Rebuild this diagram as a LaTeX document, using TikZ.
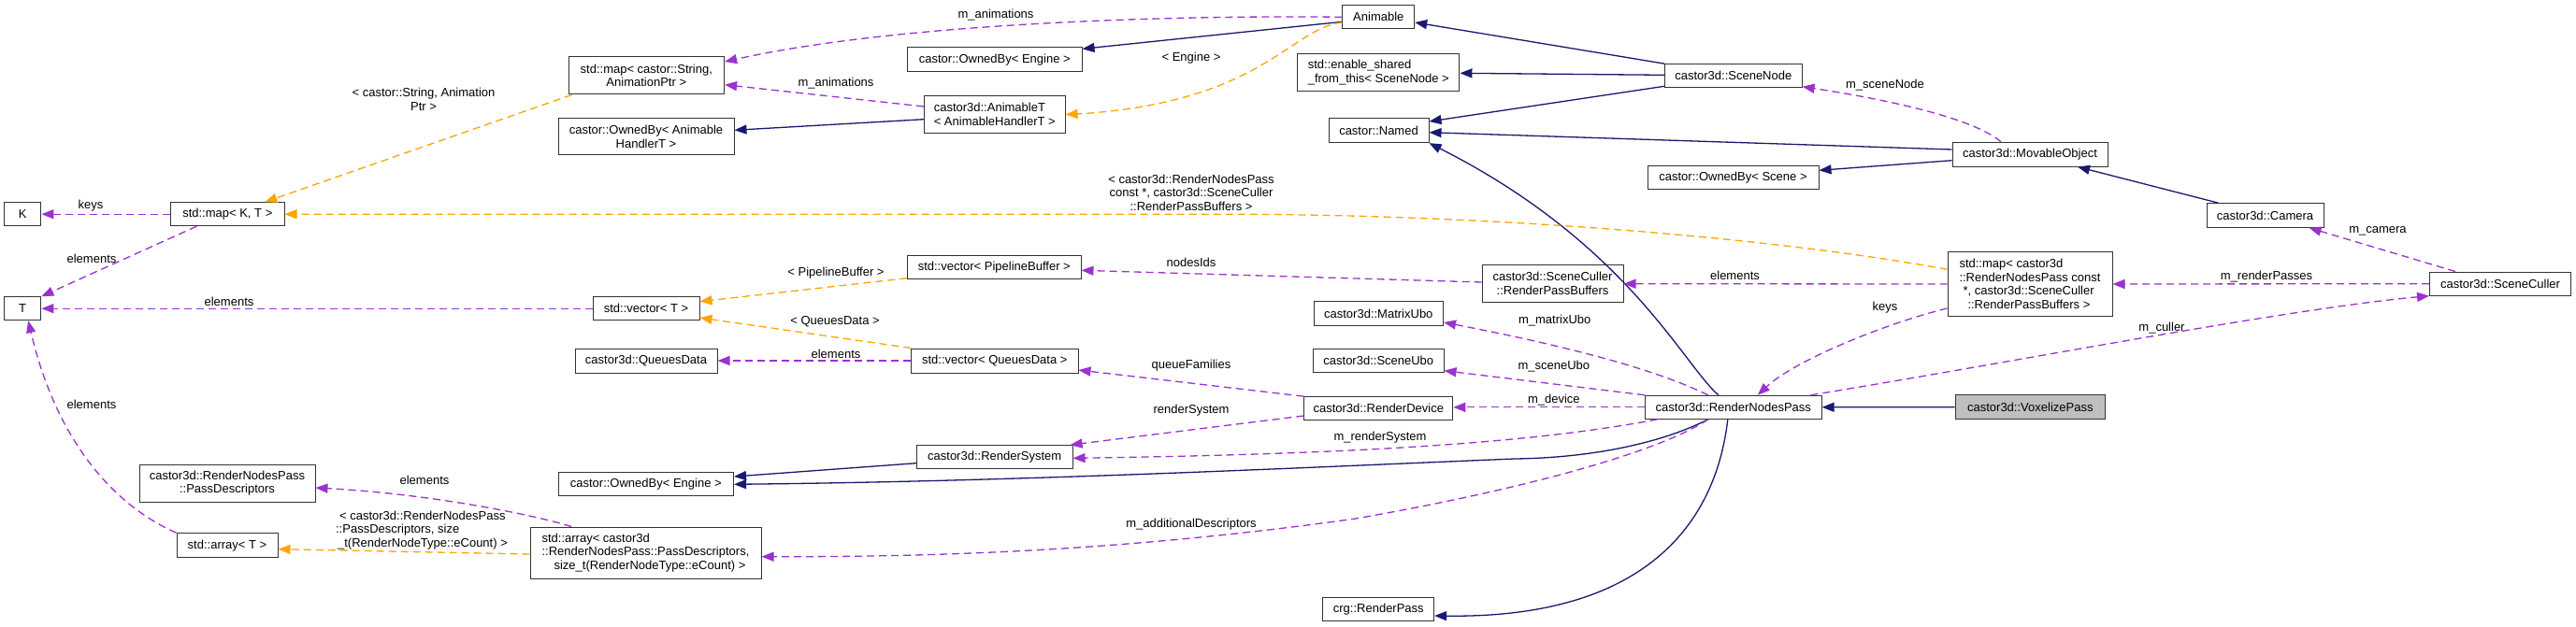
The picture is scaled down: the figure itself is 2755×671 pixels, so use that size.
\documentclass[tikz,border=0pt]{standalone}
\usepackage{fontspec}
\setmainfont{Liberation Sans}
\usetikzlibrary{arrows.meta}
\definecolor{navyc}{RGB}{25,25,112}
\definecolor{purc}{RGB}{154,50,205}
\definecolor{orac}{RGB}{255,165,0}
\definecolor{voxfill}{RGB}{191,191,191}
\tikzset{
  box/.style={draw=black!80, line width=1pt, fill=white, inner sep=0pt, font=\fontsize{13}{14.7}\selectfont, align=center},
  lbl/.style={inner sep=0pt, font=\fontsize{13}{14.7}\selectfont, align=center},
  tipx/.style={-{Triangle[length=13pt,width=10pt]}},
  inh/.style={draw=navyc, line width=1.3pt, tipx},
  use/.style={draw=purc, line width=1.3pt, dash pattern=on 8pt off 5pt, tipx},
  tmpl/.style={draw=orac, line width=1.3pt, dash pattern=on 8pt off 5pt, tipx}
}
\begin{document}
\begin{tikzpicture}[x=1pt,y=-1pt]
\fill[white] (0,0) rectangle (2755,671);
\useasboundingbox (0,0) rectangle (2755,671);

% nodes
\node[box, minimum width=39.3pt, minimum height=25pt] (K) at (24.2,229.2) {K};
\node[box, minimum width=39.3pt, minimum height=25pt] (T) at (24.2,330.2) {T};
\node[box, minimum width=121.4pt, minimum height=25pt] (mapKT) at (243.3,229.2) {std::map< K, T >};
\node[box, minimum width=188pt, minimum height=40pt] (passDesc) at (243,517) {castor3d::RenderNodesPass\\::PassDescriptors};
\node[box, minimum width=108pt, minimum height=26pt] (arrT) at (243,583.7) {std::array< T >};
\node[box, minimum width=166.6pt, minimum height=40pt] (mapStr) at (691.3,81) {std::map< castor::String,\\AnimationPtr >};
\node[box, minimum width=188pt, minimum height=39.3pt] (ownAH) at (691,146.3) {castor::OwnedBy< Animable\\HandlerT >};
\node[box, minimum width=114pt, minimum height=25pt] (vecT) at (691,330.2) {std::vector< T >};
\node[box, minimum width=152pt, minimum height=26pt] (QD) at (691,386) {castor3d::QueuesData};
\node[box, minimum width=187.5pt, minimum height=25.3pt] (ownEng2) at (690.8,518.3) {castor::OwnedBy< Engine >};
\node[box, align=left, minimum width=247pt, minimum height=55pt] (arrC) at (690.5,591.5) {std::array< castor3d\\::RenderNodesPass::PassDescriptors,\\\hspace*{13pt}size\_t(RenderNodeType::eCount) >};
\node[box, minimum width=186.4pt, minimum height=25.7pt] (ownEng1) at (1063.8,63.8) {castor::OwnedBy< Engine >};
\node[box, align=left, minimum width=150.5pt, minimum height=40pt] (animT) at (1063.8,122.7) {castor3d::AnimableT\\< AnimableHandlerT >};
\node[box, minimum width=185.4pt, minimum height=25.3pt] (vecPB) at (1063.3,286.3) {std::vector< PipelineBuffer >};
\node[box, minimum width=178.4pt, minimum height=26pt] (vecQD) at (1063.8,386) {std::vector< QueuesData >};
\node[box, minimum width=166.6pt, minimum height=25.3pt] (rSys) at (1063.7,489.3) {castor3d::RenderSystem};
\node[box, minimum width=76.7pt, minimum height=25.3pt] (Animable) at (1474.3,18.3) {Animable};
\node[box, align=left, minimum width=173.3pt, minimum height=40pt] (enableSh) at (1474.3,77.3) {std::enable\_shared\\\_from\_this< SceneNode >};
\node[box, minimum width=107pt, minimum height=25.7pt] (Named) at (1474.5,139.8) {castor::Named};
\node[box, minimum width=138.5pt, minimum height=25.6pt] (MatrixUbo) at (1474.3,335.5) {castor3d::MatrixUbo};
\node[box, minimum width=139.4pt, minimum height=25.3pt] (SceneUbo) at (1474.3,386.3) {castor3d::SceneUbo};
\node[box, minimum width=159pt, minimum height=25.3pt] (RDev) at (1474.3,437.3) {castor3d::RenderDevice};
\node[box, minimum width=118.7pt, minimum height=25.3pt] (RenderPass) at (1474.3,651.7) {crg::RenderPass};
\node[box, minimum width=151pt, minimum height=40pt] (RPB) at (1660.5,303.7) {castor3d::SceneCuller\\::RenderPassBuffers};
\node[box, minimum width=146.5pt, minimum height=25.3pt] (SceneNode) at (1853.8,81.3) {castor3d::SceneNode};
\node[box, minimum width=183pt, minimum height=25.3pt] (ownScene) at (1853.5,190.3) {castor::OwnedBy< Scene >};
\node[box, minimum width=188.5pt, minimum height=25pt] (RNP) at (1853.8,435.8) {castor3d::RenderNodesPass};
\node[box, minimum width=166pt, minimum height=25.7pt] (MovObj) at (2171,165.2) {castor3d::MovableObject};
\node[box, align=left, minimum width=176pt, minimum height=69.4pt] (mapC) at (2171,304) {std::map< castor3d\\::RenderNodesPass const\\\hspace*{4pt}*, castor3d::SceneCuller\\\hspace*{9pt}::RenderPassBuffers >};
\node[box, fill=voxfill, minimum width=160.6pt, minimum height=26pt] (Voxel) at (2171.3,435.7) {castor3d::VoxelizePass};
\node[box, minimum width=125pt, minimum height=25.6pt] (Camera) at (2422.5,230.5) {castor3d::Camera};
\node[box, minimum width=151pt, minimum height=25.3pt] (SceneCuller) at (2674,303.7) {castor3d::SceneCuller};

% edges
\draw[use] (Animable.west) .. controls (1250,16) and (960,25) .. ([yshift=15pt]mapStr.east);
\draw[inh] ([yshift=-5pt]Animable.west) -- ([yshift=11.5pt]ownEng1.east);
\draw[use] ([yshift=8.7pt]animT.west) -- ([yshift=-9.7pt]mapStr.east);
\draw[inh] ([yshift=-5pt]animT.west) -- ([yshift=7pt]ownAH.east);
\draw[tmpl] ([yshift=-5.7pt]Animable.west) .. controls (1380,30) and (1350,110) .. (animT.east);
\draw[tmpl] ([xshift=4pt]mapStr.south west) -- ([xshift=40pt]mapKT.north);
\draw[use] (mapKT.west) -- (K.east);
\draw[use] ([xshift=-33pt]mapKT.south) -- (T.north east);
\draw[use] (vecT.west) -- (T.east);
\draw[use] (arrT.north west) .. controls (120,540) and (60,470) .. ([xshift=6pt]T.south);
\draw[tmpl] ([yshift=-11.4pt]vecPB.west) -- ([yshift=7.5pt]vecT.east);
\draw[tmpl] (vecQD.north west) -- ([yshift=-9.8pt]vecT.east);
\draw[use] (vecQD.west) -- (QD.east);
\draw[inh] ([yshift=-6.4pt]rSys.west) -- ([yshift=8.3pt]ownEng2.east);
\draw[inh] ([xshift=-27pt]RNP.south) .. controls (1775,475) and (1700,490) .. (1620,491) .. controls (1400,500) and (1100,515) .. (ownEng2.east);
\draw[use] (RDev.north west) -- ([yshift=-10pt]vecQD.east);
\draw[use] ([yshift=-7.7pt]RDev.west) -- ([xshift=-3pt]rSys.north east);
\draw[use] ([xshift=13.5pt]RNP.south west) .. controls (1640,474) and (1450,486) .. ([yshift=-1pt]rSys.east);
\draw[use] (RNP.west) -- (RNP.west -| RDev.east);
\draw[use] (RNP.north west) -- ([yshift=-10.4pt]SceneUbo.east);
\draw[use] ([xshift=-27pt]RNP.north) .. controls (1780,400) and (1700,375) .. ([yshift=-9.5pt]MatrixUbo.east);
\draw[inh] ([xshift=-16pt]RNP.north) .. controls (1800,390) and (1740,260) .. (Named.south east);
\draw[inh] ([xshift=-6pt]RNP.south) .. controls (1835,560) and (1760,662) .. ([yshift=-7.3pt]RenderPass.east);
\draw[use] ([xshift=-27pt]RNP.south) .. controls (1780,480) and (1650,520) .. (1450,555) .. controls (1200,590) and (1000,596) .. ([yshift=-4.2pt]arrC.east);
\draw[use] ([xshift=44.6pt]arrC.north west) .. controls (560,548) and (450,528) .. ([yshift=-5pt]passDesc.east);
\draw[tmpl] ([yshift=-1.5pt]arrC.west) -- ([yshift=-4pt]arrT.east);
\draw[tmpl] ([yshift=15.7pt]mapC.west) .. controls (1900,255) and (1600,229) .. (1300,229.2) -- (mapKT.east);
\draw[use] (mapC.west) -- (RPB.east);
\draw[use] ([yshift=1.7pt]RPB.west) -- ([yshift=-3pt]vecPB.east);
\draw[use] ([yshift=-26pt]mapC.west) .. controls (2020,345) and (1920,385) .. ([xshift=26pt]RNP.north);
\draw[use] ([xshift=-31pt]MovObj.north) .. controls (2115,130) and (2040,110) .. ([yshift=-11.4pt]SceneNode.east);
\draw[inh] ([yshift=5.2pt]MovObj.west) -- ([yshift=-1.9pt]Named.east);
\draw[inh] ([yshift=-6.5pt]MovObj.west) -- ([yshift=8pt]ownScene.east);
\draw[inh] (SceneNode.north west) -- ([yshift=-5.7pt]Animable.east);
\draw[inh] ([yshift=1pt]SceneNode.west) -- ([yshift=-1pt]enableSh.east);
\draw[inh] ([yshift=-11pt]SceneNode.west) -- ([yshift=9.8pt]Named.east);
\draw[inh] ([xshift=13pt]Camera.north west) -- ([xshift=51pt]MovObj.south);
\draw[use] ([xshift=-48pt]SceneCuller.north) -- ([xshift=-16pt]Camera.south east);
\draw[use] (SceneCuller.west) -- (mapC.east);
\draw[use] ([xshift=-12pt]RNP.north east) .. controls (2150,388) and (2450,330) .. ([yshift=-13pt]SceneCuller.west);
\draw[inh] (Voxel.west) -- (RNP.east);

% labels
\node[lbl] (l1) at (1065,15.7) {m\_animations};
\node[lbl] (l2) at (894,88.7) {m\_animations};
\node[lbl] (l3) at (1274,62) {< Engine >};
\node[lbl] (l4) at (453,106.5) {< castor::String, Animation\\Ptr >};
\node[lbl] (l5) at (97,220) {keys};
\node[lbl] (l6) at (98,277) {elements};
\node[lbl] (l7) at (245,323) {elements};
\node[lbl] (l8) at (98,433) {elements};
\node[lbl] (l9) at (1274,206.2) {< castor3d::RenderNodesPass\\const *, castor3d::SceneCuller\\::RenderPassBuffers >};
\node[lbl] (l10) at (894,291.7) {< PipelineBuffer >};
\node[lbl] (l11) at (1274,280.7) {nodesIds};
\node[lbl] (l12) at (893,344.3) {< QueuesData >};
\node[lbl] (l13) at (894,378.7) {elements};
\node[lbl] (l14) at (1274,390.7) {queueFamilies};
\node[lbl] (l15) at (1274,439) {renderSystem};
\node[lbl] (l16) at (1476,468.3) {m\_renderSystem};
\node[lbl] (l17) at (1274,560.7) {m\_additionalDescriptors};
\node[lbl] (l18) at (454,514) {elements};
\node[lbl, align=left] (l19) at (451,567.5) {\hspace*{4pt}< castor3d::RenderNodesPass\\::PassDescriptors, size\\\hspace*{2pt}\_t(RenderNodeType::eCount) >};
\node[lbl] (l20) at (2016,91) {m\_sceneNode};
\node[lbl] (l21) at (1855.5,295.3) {elements};
\node[lbl] (l22) at (2016,329) {keys};
\node[lbl] (l23) at (1662.7,343.3) {m\_matrixUbo};
\node[lbl] (l24) at (1661.8,391.7) {m\_sceneUbo};
\node[lbl] (l25) at (1661.8,427.7) {m\_device};
\node[lbl] (l26) at (2543,247.7) {m\_camera};
\node[lbl] (l27) at (2424,295.7) {m\_renderPasses};
\node[lbl] (l28) at (2312,350.7) {m\_culler};
\end{tikzpicture}
\end{document}
